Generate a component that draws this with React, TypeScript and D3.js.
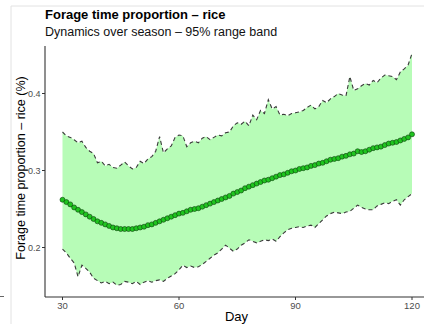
import React from "react";
import * as d3 from "d3";

const days: number[] = d3.range(30, 121);

const meanValues: number[] = [
  0.262, 0.259, 0.256, 0.252, 0.249, 0.246, 0.243, 0.240, 0.237, 0.234,
  0.232, 0.230, 0.228, 0.226, 0.225, 0.224, 0.224, 0.224, 0.224, 0.225,
  0.226, 0.227, 0.229, 0.230, 0.232, 0.234, 0.236, 0.238, 0.240, 0.242,
  0.244, 0.245, 0.247, 0.249, 0.250, 0.251, 0.253, 0.255, 0.257, 0.259,
  0.261, 0.263, 0.265, 0.267, 0.270, 0.272, 0.274, 0.277, 0.279, 0.281,
  0.283, 0.285, 0.287, 0.288, 0.290, 0.292, 0.294, 0.295, 0.297, 0.299,
  0.300, 0.302, 0.303, 0.304, 0.306, 0.307, 0.309, 0.310, 0.312, 0.314,
  0.315, 0.316, 0.318, 0.319, 0.321, 0.322, 0.325, 0.324, 0.325, 0.327,
  0.329, 0.330, 0.331, 0.333, 0.335, 0.336, 0.337, 0.339, 0.341, 0.343,
  0.347,
];

const upperValues: number[] = [
  0.350, 0.345, 0.343, 0.340, 0.336, 0.338, 0.330, 0.325, 0.322, 0.310,
  0.312, 0.306, 0.308, 0.304, 0.303, 0.307, 0.311, 0.306, 0.302, 0.304,
  0.312, 0.309, 0.315, 0.318, 0.325, 0.344, 0.323, 0.328, 0.332, 0.343,
  0.346, 0.345, 0.331, 0.336, 0.338, 0.336, 0.342, 0.344, 0.340, 0.343,
  0.346, 0.345, 0.349, 0.350, 0.358, 0.362, 0.360, 0.364, 0.358, 0.372,
  0.366, 0.378, 0.374, 0.392, 0.380, 0.383, 0.372, 0.373, 0.371, 0.374,
  0.375, 0.376, 0.378, 0.382, 0.385, 0.380, 0.383, 0.391, 0.388, 0.393,
  0.396, 0.400, 0.398, 0.397, 0.422, 0.404, 0.406, 0.410, 0.413, 0.411,
  0.417, 0.414, 0.420, 0.424, 0.423, 0.422, 0.418, 0.428, 0.432, 0.437,
  0.452,
];

const lowerValues: number[] = [
  0.198, 0.193, 0.186, 0.180, 0.162, 0.177, 0.173, 0.168, 0.160, 0.157,
  0.154, 0.156, 0.153, 0.155, 0.151, 0.152, 0.156, 0.155, 0.153, 0.156,
  0.152, 0.155, 0.157, 0.155, 0.157, 0.158, 0.156, 0.160, 0.163, 0.166,
  0.171, 0.177, 0.174, 0.176, 0.174, 0.175, 0.178, 0.182, 0.186, 0.190,
  0.193, 0.198, 0.203, 0.199, 0.195, 0.198, 0.203, 0.206, 0.210, 0.208,
  0.206, 0.208, 0.210, 0.209, 0.211, 0.208, 0.214, 0.219, 0.223, 0.225,
  0.226, 0.227, 0.226, 0.228, 0.229, 0.226, 0.231, 0.236, 0.241, 0.244,
  0.246, 0.245, 0.244, 0.246, 0.247, 0.251, 0.255, 0.252, 0.250, 0.249,
  0.249, 0.254, 0.256, 0.258, 0.257, 0.260, 0.262, 0.255, 0.262, 0.266,
  0.270,
];

const xTicks: number[] = [30, 60, 90, 120];
const yTicks: number[] = [0.2, 0.3, 0.4];

const titleText = "Forage time proportion – rice";
const subtitleText = "Dynamics over season – 95% range band";
const xTitle = "Day";
const yTitle = "Forage time proportion – rice (%)";

const W = 424;
const H = 324;
const FONT = "'Liberation Sans', Arial, Helvetica, sans-serif";

export default function App() {
  const x = d3.scaleLinear().domain([30, 120]).range([62.5, 412]);
  const y = d3.scaleLinear().domain([0.2, 0.4]).range([247.5, 93.5]);

  const panelLeft = 45;
  const panelTop = 46;
  const panelBottom = 297;

  const rows = days.map((d, i) => ({
    day: d,
    mean: meanValues[i],
    lo: lowerValues[i],
    hi: upperValues[i],
  }));

  const area = d3
    .area<(typeof rows)[number]>()
    .x((r) => x(r.day))
    .y0((r) => y(r.lo))
    .y1((r) => y(r.hi));
  const upperLine = d3
    .line<(typeof rows)[number]>()
    .x((r) => x(r.day))
    .y((r) => y(r.hi));
  const lowerLine = d3
    .line<(typeof rows)[number]>()
    .x((r) => x(r.day))
    .y((r) => y(r.lo));
  const meanLine = d3
    .line<(typeof rows)[number]>()
    .x((r) => x(r.day))
    .y((r) => y(r.mean));

  return (
    <svg
      width={W}
      height={H}
      style={{ position: "absolute", left: 0, top: 0, background: "#fff" }}
      fontFamily={FONT}
    >
      <rect x={0} y={0} width={W} height={H} fill="#fff" />
      {/* frame artifacts */}
      <line x1={11} y1={6} x2={W} y2={6} stroke="#e2e2e2" strokeWidth={1} />
      <line x1={11} y1={6} x2={11} y2={H} stroke="#e2e2e2" strokeWidth={1} />
      <line x1={0} y1={296.5} x2={4} y2={296.5} stroke="#666" strokeWidth={1} />

      {/* title */}
      <text x={45} y={19} fontSize={13} fontWeight="bold" fill="#000">
        {titleText}
      </text>
      <text x={45} y={36} fontSize={12.5} fill="#111">
        {subtitleText}
      </text>

      {/* band */}
      <path d={area(rows) ?? ""} fill="#b7fcb7" stroke="none" />
      <path
        d={upperLine(rows) ?? ""}
        fill="none"
        stroke="#3a3a3a"
        strokeWidth={1.1}
        strokeDasharray="4,3"
      />
      <path
        d={lowerLine(rows) ?? ""}
        fill="none"
        stroke="#3a3a3a"
        strokeWidth={1.1}
        strokeDasharray="4,3"
      />

      {/* mean */}
      <path d={meanLine(rows) ?? ""} fill="none" stroke="#063806" strokeWidth={1} />
      {rows.map((r) => (
        <circle
          key={r.day}
          cx={x(r.day)}
          cy={y(r.mean)}
          r={2.5}
          fill="#1fc41f"
          stroke="#0b3d0b"
          strokeWidth={0.6}
        />
      ))}

      {/* axes */}
      <line
        x1={panelLeft}
        y1={panelTop}
        x2={panelLeft}
        y2={panelBottom}
        stroke="#333"
        strokeWidth={1.1}
      />
      <line
        x1={panelLeft}
        y1={panelBottom}
        x2={W}
        y2={panelBottom}
        stroke="#333"
        strokeWidth={1.1}
      />
      {yTicks.map((t) => (
        <g key={t}>
          <line
            x1={panelLeft - 3}
            x2={panelLeft}
            y1={y(t)}
            y2={y(t)}
            stroke="#333"
            strokeWidth={1}
          />
          <text
            x={panelLeft - 4.5}
            y={y(t)}
            dy="0.35em"
            textAnchor="end"
            fontSize={9}
            fill="#4d4d4d"
          >
            {d3.format(".1f")(t)}
          </text>
        </g>
      ))}
      {xTicks.map((t) => (
        <g key={t}>
          <line
            x1={x(t)}
            x2={x(t)}
            y1={panelBottom}
            y2={panelBottom + 3}
            stroke="#333"
            strokeWidth={1}
          />
          <text
            x={x(t)}
            y={panelBottom + 12}
            textAnchor="middle"
            fontSize={9.5}
            fill="#4d4d4d"
          >
            {t}
          </text>
        </g>
      ))}
      <text x={(panelLeft + 424) / 2 + 2} y={321} textAnchor="middle" fontSize={13} fill="#000">
        {xTitle}
      </text>
      <text
        transform={`translate(25, 168) rotate(-90)`}
        textAnchor="middle"
        fontSize={12.5}
        fill="#000"
      >
        {yTitle}
      </text>
    </svg>
  );
}
